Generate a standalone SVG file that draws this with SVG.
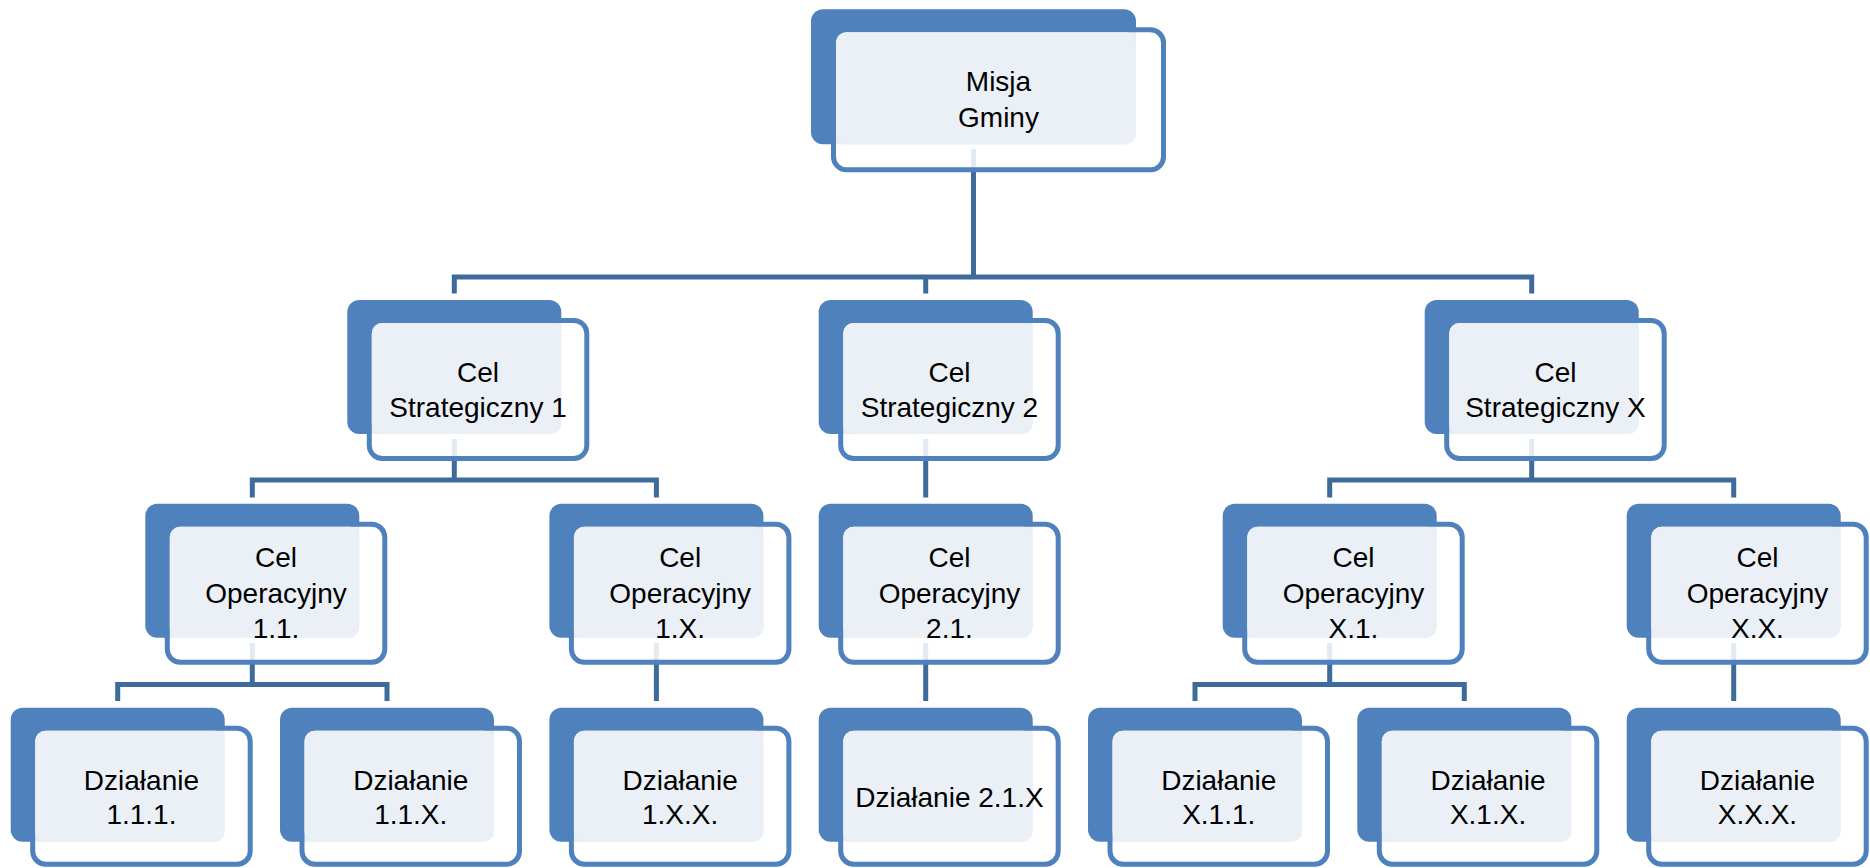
<svg xmlns="http://www.w3.org/2000/svg" width="1870" height="868" viewBox="0 0 1870 868">
<style>
.back{fill:#4F81BD}
.front{fill:#FFFFFF;fill-opacity:0.86;stroke:#4F81BD;stroke-width:5}
.lite{fill:#EBF0F7}
.lbl{font-family:"Liberation Sans",Arial,sans-serif;font-size:28px;fill:#000;text-anchor:middle}
.conn{fill:none;stroke:#3F6B9C;stroke-width:5;stroke-linejoin:miter;stroke-linecap:butt}
</style>
<rect width="1870" height="868" fill="#FFFFFF"/>
<g id="connectors">
<path class="conn" d="M973.5 149 V277 M454.3 293.5 V277 H1531.7 V293.5 M925.7 277 V293.5"/>
<path class="conn" d="M454.3 439 V480 M252.3 497.5 V480 H656.4 V497.5"/>
<path class="conn" d="M925.7 439 V497.5"/>
<path class="conn" d="M1531.7 439 V480 M1329.7 497.5 V480 H1733.7 V497.5"/>
<path class="conn" d="M252.3 643 V684.5 M117.7 701 V684.5 H387 V701"/>
<path class="conn" d="M656.4 643 V701"/>
<path class="conn" d="M925.7 643 V701"/>
<path class="conn" d="M1329.7 643 V684.5 M1195 701 V684.5 H1464.3 V701"/>
<path class="conn" d="M1733.7 643 V701"/>
</g>
<g id="misja" transform="translate(811,9.3)">
<rect class="back" width="325" height="135" rx="12"/>
<rect class="front" x="22.5" y="20.5" width="330" height="140" rx="13"/>
<rect class="lite" x="25" y="23" width="300" height="112" rx="10"/>
<text class="lbl" x="187.5" y="81.5">Misja</text>
<text class="lbl" x="187.5" y="117.5">Gminy</text>
</g>
<g id="cs1" transform="translate(347.3,300)">
<rect class="back" width="214" height="134" rx="12"/>
<rect class="front" x="22" y="20.5" width="217.5" height="138" rx="13"/>
<rect class="lite" x="24.5" y="23" width="189.5" height="111" rx="10"/>
<text class="lbl" x="130.75" y="82">Cel</text>
<text class="lbl" x="130.75" y="117">Strategiczny 1</text>
</g>
<g id="cs2" transform="translate(818.7,300)">
<rect class="back" width="214" height="134" rx="12"/>
<rect class="front" x="22" y="20.5" width="217.5" height="138" rx="13"/>
<rect class="lite" x="24.5" y="23" width="189.5" height="111" rx="10"/>
<text class="lbl" x="130.75" y="82">Cel</text>
<text class="lbl" x="130.75" y="117">Strategiczny 2</text>
</g>
<g id="csx" transform="translate(1424.7,300)">
<rect class="back" width="214" height="134" rx="12"/>
<rect class="front" x="22" y="20.5" width="217.5" height="138" rx="13"/>
<rect class="lite" x="24.5" y="23" width="189.5" height="111" rx="10"/>
<text class="lbl" x="130.75" y="82">Cel</text>
<text class="lbl" x="130.75" y="117">Strategiczny X</text>
</g>
<g id="co11" transform="translate(145.3,503.8)">
<rect class="back" width="214" height="134" rx="12"/>
<rect class="front" x="22" y="20.5" width="217.5" height="138" rx="13"/>
<rect class="lite" x="24.5" y="23" width="189.5" height="111" rx="10"/>
<text class="lbl" x="130.75" y="63.5">Cel</text>
<text class="lbl" x="130.75" y="99">Operacyjny</text>
<text class="lbl" x="130.75" y="134.5">1.1.</text>
</g>
<g id="co1x" transform="translate(549.4,503.8)">
<rect class="back" width="214" height="134" rx="12"/>
<rect class="front" x="22" y="20.5" width="217.5" height="138" rx="13"/>
<rect class="lite" x="24.5" y="23" width="189.5" height="111" rx="10"/>
<text class="lbl" x="130.75" y="63.5">Cel</text>
<text class="lbl" x="130.75" y="99">Operacyjny</text>
<text class="lbl" x="130.75" y="134.5">1.X.</text>
</g>
<g id="co21" transform="translate(818.7,503.8)">
<rect class="back" width="214" height="134" rx="12"/>
<rect class="front" x="22" y="20.5" width="217.5" height="138" rx="13"/>
<rect class="lite" x="24.5" y="23" width="189.5" height="111" rx="10"/>
<text class="lbl" x="130.75" y="63.5">Cel</text>
<text class="lbl" x="130.75" y="99">Operacyjny</text>
<text class="lbl" x="130.75" y="134.5">2.1.</text>
</g>
<g id="cox1" transform="translate(1222.7,503.8)">
<rect class="back" width="214" height="134" rx="12"/>
<rect class="front" x="22" y="20.5" width="217.5" height="138" rx="13"/>
<rect class="lite" x="24.5" y="23" width="189.5" height="111" rx="10"/>
<text class="lbl" x="130.75" y="63.5">Cel</text>
<text class="lbl" x="130.75" y="99">Operacyjny</text>
<text class="lbl" x="130.75" y="134.5">X.1.</text>
</g>
<g id="coxx" transform="translate(1626.7,503.8)">
<rect class="back" width="214" height="134" rx="12"/>
<rect class="front" x="22" y="20.5" width="217.5" height="138" rx="13"/>
<rect class="lite" x="24.5" y="23" width="189.5" height="111" rx="10"/>
<text class="lbl" x="130.75" y="63.5">Cel</text>
<text class="lbl" x="130.75" y="99">Operacyjny</text>
<text class="lbl" x="130.75" y="134.5">X.X.</text>
</g>
<g id="d111" transform="translate(10.7,707.7)">
<rect class="back" width="214" height="134" rx="12"/>
<rect class="front" x="22" y="20.5" width="217.5" height="136" rx="13"/>
<rect class="lite" x="24.5" y="23" width="189.5" height="111" rx="10"/>
<text class="lbl" x="130.75" y="82.3">Działanie</text>
<text class="lbl" x="130.75" y="116.6">1.1.1.</text>
</g>
<g id="d11x" transform="translate(280,707.7)">
<rect class="back" width="214" height="134" rx="12"/>
<rect class="front" x="22" y="20.5" width="217.5" height="136" rx="13"/>
<rect class="lite" x="24.5" y="23" width="189.5" height="111" rx="10"/>
<text class="lbl" x="130.75" y="82.3">Działanie</text>
<text class="lbl" x="130.75" y="116.6">1.1.X.</text>
</g>
<g id="d1xx" transform="translate(549.4,707.7)">
<rect class="back" width="214" height="134" rx="12"/>
<rect class="front" x="22" y="20.5" width="217.5" height="136" rx="13"/>
<rect class="lite" x="24.5" y="23" width="189.5" height="111" rx="10"/>
<text class="lbl" x="130.75" y="82.3">Działanie</text>
<text class="lbl" x="130.75" y="116.6">1.X.X.</text>
</g>
<g id="d21x" transform="translate(818.7,707.7)">
<rect class="back" width="214" height="134" rx="12"/>
<rect class="front" x="22" y="20.5" width="217.5" height="136" rx="13"/>
<rect class="lite" x="24.5" y="23" width="189.5" height="111" rx="10"/>
<text class="lbl" x="130.75" y="99">Działanie 2.1.X</text>
</g>
<g id="dx11" transform="translate(1088,707.7)">
<rect class="back" width="214" height="134" rx="12"/>
<rect class="front" x="22" y="20.5" width="217.5" height="136" rx="13"/>
<rect class="lite" x="24.5" y="23" width="189.5" height="111" rx="10"/>
<text class="lbl" x="130.75" y="82.3">Działanie</text>
<text class="lbl" x="130.75" y="116.6">X.1.1.</text>
</g>
<g id="dx1x" transform="translate(1357.3,707.7)">
<rect class="back" width="214" height="134" rx="12"/>
<rect class="front" x="22" y="20.5" width="217.5" height="136" rx="13"/>
<rect class="lite" x="24.5" y="23" width="189.5" height="111" rx="10"/>
<text class="lbl" x="130.75" y="82.3">Działanie</text>
<text class="lbl" x="130.75" y="116.6">X.1.X.</text>
</g>
<g id="dxxx" transform="translate(1626.7,707.7)">
<rect class="back" width="214" height="134" rx="12"/>
<rect class="front" x="22" y="20.5" width="217.5" height="136" rx="13"/>
<rect class="lite" x="24.5" y="23" width="189.5" height="111" rx="10"/>
<text class="lbl" x="130.75" y="82.3">Działanie</text>
<text class="lbl" x="130.75" y="116.6">X.X.X.</text>
</g>
</svg>
